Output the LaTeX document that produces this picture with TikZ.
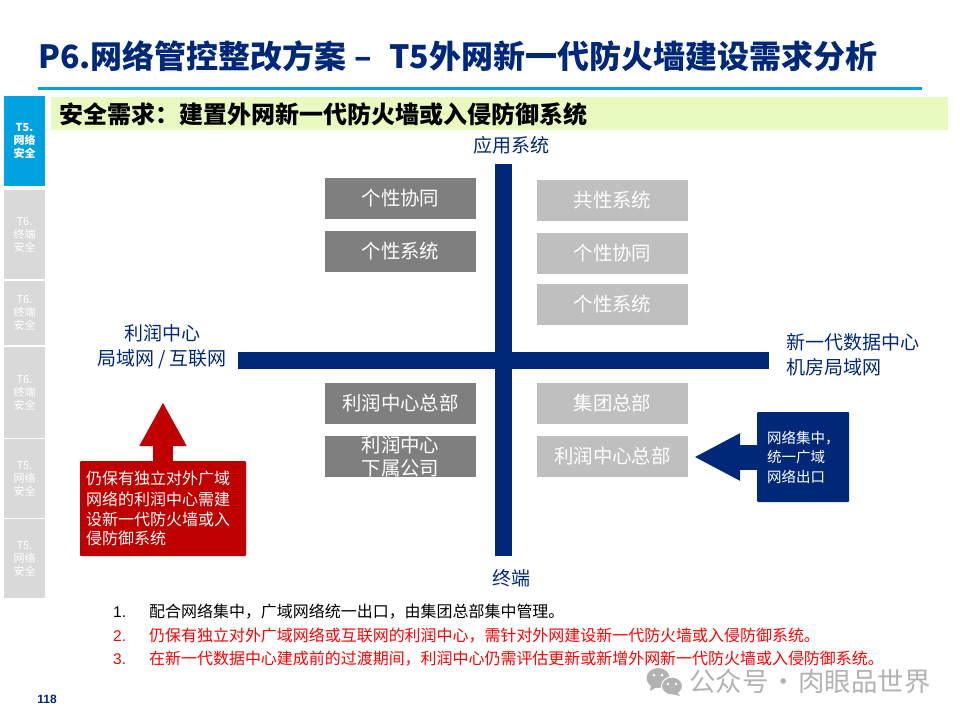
\documentclass[tikz,border=0pt]{standalone}
\usepackage{fontspec}
\setmainfont{Noto Sans CJK SC}
\newfontfamily\arialfont{Liberation Sans}
\usetikzlibrary{arrows.meta}
\definecolor{navyblue}{RGB}{0, 40, 120}
\definecolor{tabblue}{RGB}{0, 162, 224}
\definecolor{tabgray}{RGB}{217, 217, 217}
\definecolor{darkbox}{RGB}{127, 127, 127}
\definecolor{lightbox}{RGB}{191, 191, 191}
\definecolor{darkred}{RGB}{192, 0, 0}
\definecolor{headbar}{RGB}{232, 250, 192}
\definecolor{markgray}{RGB}{178, 178, 178}
\newcommand{\fs}[2]{\fontsize{#1}{#2}\selectfont}

\begin{document}
\begin{tikzpicture}[x=1pt, y=-1pt, >=Stealth,
    quadbox/.style={minimum width=151pt, minimum height=41pt, inner sep=0pt,
                    text=white, align=center, font=\fs{19.4}{23}},
    darkquad/.style={quadbox, fill=darkbox},
    lightquad/.style={quadbox, fill=lightbox},
    sidetab/.style={minimum width=41pt, inner sep=0pt, text=white, align=center,
                    fill=tabgray, font=\fs{11}{13}},
    axislabel/.style={text=navyblue, inner sep=0pt, align=center, font=\fs{19}{25}},
    axisbar/.style={navyblue, line width=17pt},
    listnum/.style={inner sep=0pt, anchor=west, font=\arialfont\fs{15.5}{18}},
    listtext/.style={inner sep=0pt, anchor=west, font=\fs{15.97}{18}}]
  \useasboundingbox (0,0) rectangle (960,720);

  % Title
  \node[anchor=west, inner sep=0pt, text=navyblue, font=\bfseries\fs{32}{36}] (title) at (38,56)
    {P6.网络管控整改方案 –\ \ \hspace{3pt}T5外网新一代防火墙建设需求分析};
  \fill[tabblue] (38,87) rectangle (922,90);
  \node[anchor=west, fill=headbar, minimum width=897pt, minimum height=33pt, inner sep=0pt] (head) at (51,113.5) {};
  \node[anchor=west, inner sep=0pt, font=\bfseries\fs{24}{28}] (headtext) at (59,114)
    {安全需求：建置外网新一代防火墙或入侵防御系统};

  % Side tabs
  \node[sidetab, fill=tabblue, minimum height=90pt, font=\bfseries\fs{11}{13}] (tab1) at (24.5,141) {T5.\\网络\\安全};
  \node[sidetab, minimum height=89pt] (tab2) at (24.5,234.5) {T6.\\终端\\安全};
  \node[sidetab, minimum height=64pt] (tab3) at (24.5,313) {T6.\\终端\\安全};
  \node[sidetab, minimum height=91pt] (tab4) at (24.5,392.5) {T6.\\终端\\安全};
  \node[sidetab, minimum height=79pt] (tab5) at (24.5,478.5) {T5.\\网络\\安全};
  \node[sidetab, minimum height=79pt] (tab6) at (24.5,558.5) {T5.\\网络\\安全};

  % Axes
  \coordinate (axtop) at (503.5,164);
  \coordinate (axbot) at (503.5,556);
  \coordinate (axleft) at (238,360.5);
  \coordinate (axright) at (769,360.5);
  \draw[axisbar] (axtop) -- (axbot);
  \draw[axisbar] (axleft) -- (axright);

  % Axis labels
  \node[axislabel] (lbltop) at (511,145) {应用系统};
  \node[axislabel] (lblbot) at (511,578) {终端};
  \node[axislabel] (lblleft) at (162,346.5) {利润中心\\局域网 / 互联网};
  \node[axislabel, align=left, anchor=west] (lblright) at (786,354.5) {新一代数据中心\\机房局域网};

  % Quadrant boxes
  \node[darkquad] (d1) at (400.5,198.5) {个性协同};
  \node[darkquad] (d2) at (400.5,251.5) {个性系统};
  \node[darkquad] (d3) at (400.5,403.5) {利润中心总部};
  \node[darkquad] (d4) at (400.5,456.5) {利润中心\\下属公司};
  \node[lightquad] (l1) at (612.5,200.5) {共性系统};
  \node[lightquad] (l2) at (612.5,253.5) {个性协同};
  \node[lightquad] (l3) at (612.5,304.5) {个性系统};
  \node[lightquad] (l4) at (612.5,403.5) {集团总部};
  \node[lightquad] (l5) at (612.5,456.5) {利润中心总部};

  % Callouts
  \node[fill=darkred, rounded corners=1pt, minimum width=166pt, minimum height=95pt, inner sep=0pt,
        text=white, text width=154pt, align=left, font=\fs{16}{19.3}] (redbox) at (163,508.5)
    {\vspace*{2pt}仍保有独立对外广域\\网络的利润中心需建\\设新一代防火墙或入\\侵防御系统};
  \node[fill=navyblue, rounded corners=1pt, minimum width=92pt, minimum height=90pt, inner sep=0pt,
        text=white, text width=72pt, align=left, font=\fs{14.5}{19.5}] (bluebox) at (803,457)
    {网络集中，\\统一广域\\网络出口};
  \coordinate (redtip) at (163,402);
  \coordinate (bluetip) at (694,457);
  \draw[-{Triangle[length=44pt,width=44pt]}, line width=20pt, darkred] (redbox.north) -- (redtip);
  \draw[-{Triangle[length=46pt,width=44pt]}, line width=25pt, navyblue] (bluebox.west) -- (bluetip);

  % List
  \node[listnum] (n1) at (113,612) {1.};
  \node[listnum, text=red] (n2) at (113,636) {2.};
  \node[listnum, text=red] (n3) at (113,659) {3.};
  \node[listtext] (t1) at (149,612) {配合网络集中，广域网络统一出口，由集团总部集中管理。};
  \node[listtext, text=red] (t2) at (149,636) {仍保有独立对外广域网络或互联网的利润中心，需针对外网建设新一代防火墙或入侵防御系统。};
  \node[listtext, text=red] (t3) at (149,659) {在新一代数据中心建成前的过渡期间，利润中心仍需评估更新或新增外网新一代防火墙或入侵防御系统。};

  % Footer
  \node[inner sep=0pt, text=navyblue, font=\arialfont\bfseries\fs{12}{14}] (page) at (47,699) {118};
  \fill[markgray] (658,678) ellipse (11.5pt and 10pt);
  \fill[markgray] (651,685) -- (650,691) -- (657,687) -- cycle;
  \fill[markgray, draw=white, line width=1pt] (672,686) ellipse (10.5pt and 9pt);
  \fill[markgray] (677,692) -- (680,696) -- (672,694) -- cycle;
  \fill[white] (654,675) circle (1.5pt) (662,675) circle (1.5pt) (668,684) circle (1.3pt) (676,684) circle (1.3pt);
  \node[anchor=west, inner sep=0pt, text=markgray, font=\fs{26.4}{28}] (mark) at (689,681)
    {公众号\makebox[30pt][c]{·}肉眼品世界};
\end{tikzpicture}
\end{document}
